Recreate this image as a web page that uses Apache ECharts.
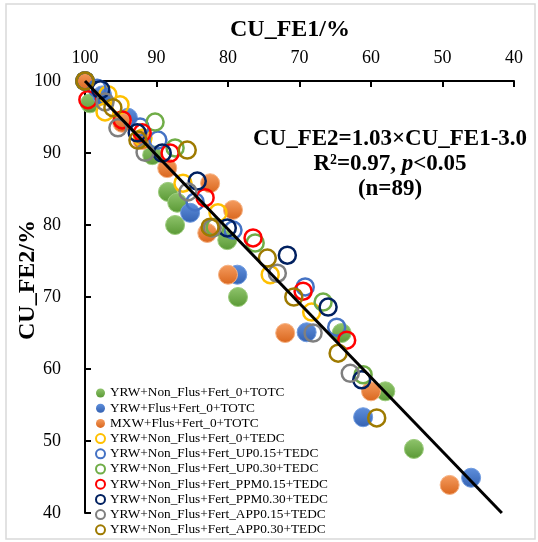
<!DOCTYPE html>
<html>
<head>
<meta charset="utf-8">
<script src="https://cdn.jsdelivr.net/npm/echarts@6/dist/echarts.min.js"></script>
<style>
  html, body { margin: 0; padding: 0; background: #fff; }
  #chart { width: 538px; height: 542px; }
</style>
</head>
<body>
<div id="chart"></div>
<script>
// axis ticks
const xTicks = [100, 90, 80, 70, 60, 50, 40];
const yTicks = [40, 50, 60, 70, 80, 90, 100];

// series names (legend order)
const seriesNames = [
  "YRW+Non_Flus+Fert_0+TOTC",
  "YRW+Flus+Fert_0+TOTC",
  "MXW+Flus+Fert_0+TOTC",
  "YRW+Non_Flus+Fert_0+TEDC",
  "YRW+Non_Flus+Fert_UP0.15+TEDC",
  "YRW+Non_Flus+Fert_UP0.30+TEDC",
  "YRW+Non_Flus+Fert_PPM0.15+TEDC",
  "YRW+Non_Flus+Fert_PPM0.30+TEDC",
  "YRW+Non_Flus+Fert_APP0.15+TEDC",
  "YRW+Non_Flus+Fert_APP0.30+TEDC",
];

// [CU_FE1, CU_FE2] pairs
const yrwNonFlusTOTC = [[100, 100], [99.3, 96.9], [90.6, 89.7], [88.4, 84.6], [87.1, 83.1], [87.4, 80.0],
  [80.1, 77.9], [78.6, 70.0], [64.1, 65.0], [58.0, 56.9], [54.0, 48.9]];
const yrwFlusTOTC = [[100, 100], [97.6, 98.0], [94.0, 94.9], [85.3, 81.7], [78.7, 73.1], [69.0, 65.1],
  [61.1, 53.3], [46.0, 44.9]];
const mxwFlusTOTC = [[100, 100], [94.8, 94.2], [92.0, 91.8], [88.5, 87.9], [82.5, 85.8], [79.3, 82.1],
  [82.9, 78.9], [80.0, 73.1], [72.0, 65.0], [60.0, 56.9], [49.0, 43.9]];
const fert0TEDC = [[100, 100], [96.8, 98.1], [97.2, 95.7], [95.1, 96.7], [91.9, 92.1], [86.3, 85.8],
  [81.4, 81.7], [74.1, 73.1], [68.3, 67.9]];
const up015TEDC = [[100, 100], [98.3, 99.0], [92.3, 93.6], [89.8, 91.8], [84.6, 83.2], [79.3, 79.3],
  [69.2, 71.4], [64.8, 65.8]];
const up030TEDC = [[100, 100], [90.2, 94.3], [87.4, 90.7], [81.8, 79.7], [76.2, 77.5], [66.7, 69.3],
  [61.1, 59.2]];
const ppm015TEDC = [[99.6, 97.4], [94.8, 94.6], [92.0, 92.8], [88.1, 90.0], [83.2, 83.8], [76.5, 78.2],
  [69.5, 70.8], [63.4, 64.0]];
const ppm030TEDC = [[100, 100], [97.8, 98.8], [92.7, 92.8], [89.2, 90.0], [84.3, 86.1], [80.1, 79.6],
  [71.7, 75.8], [66.0, 68.6], [61.3, 58.5]];
const app015TEDC = [[100, 100], [97.2, 97.1], [95.4, 93.5], [91.6, 90.1], [85.6, 84.6], [82.2, 79.6],
  [73.1, 73.3], [68.1, 65.0], [62.9, 59.4]];
const app030TEDC = [[100, 100], [96.1, 96.3], [92.6, 91.8], [85.7, 90.4], [82.5, 79.7], [74.5, 75.4],
  [70.8, 70.0], [64.6, 62.2], [59.2, 53.2]];

// fitted line CU_FE2 = 1.03*CU_FE1 - 3.0, end points
const fitLine = [[100, 100], [41.7, 40]];

const seriesData = [yrwNonFlusTOTC, yrwFlusTOTC, mxwFlusTOTC, fert0TEDC, up015TEDC, up030TEDC,
  ppm015TEDC, ppm030TEDC, app015TEDC, app030TEDC];

const serif = "'Liberation Serif', 'Times New Roman', serif";

// filled marker colours [light, dark, rim]
const filledColors = [
  ["#8fc46c", "#5a9935", "#9ccc7c"],
  ["#5f8fdc", "#3462b2", "#6f9be0"],
  ["#f59c5f", "#d9661d", "#f6b283"],
];
const hollowColors = ["#ffc000", "#4472c4", "#70ad47", "#ff0000", "#002060", "#7f7f7f", "#9e7a00"];

function grad(c) {
  return {
    type: "linear", x: 0, y: 0, x2: 0, y2: 1,
    colorStops: [{ offset: 0, color: c[0] }, { offset: 1, color: c[1] }],
  };
}

var series = [];
var legendData = [];
seriesNames.forEach((name, i) => {
  if (i < 3) {
    const c = filledColors[i];
    series.push({
      name: name, type: "scatter", data: seriesData[i], symbol: "circle", symbolSize: 19,
      itemStyle: { color: grad(c), borderColor: c[2], borderWidth: 1, opacity: 1 },
      z: 2,
    });
    legendData.push({ name: name, itemStyle: { color: grad(c), borderWidth: 0 } });
  } else {
    const col = hollowColors[i - 3];
    series.push({
      name: name, type: "scatter", data: seriesData[i], symbol: "circle", symbolSize: 17,
      itemStyle: { color: "rgba(0,0,0,0)", borderColor: col, borderWidth: 2.5, opacity: 1 },
      z: 3,
    });
    legendData.push({ name: name, itemStyle: { color: "#fff", borderColor: col, borderWidth: 2 } });
  }
});
series.push({
  name: "fit", type: "line", data: fitLine, symbol: "none", silent: true,
  lineStyle: { color: "#000", width: 3 }, z: 5,
});

var myChart = echarts.init(document.getElementById("chart"), null, { renderer: "canvas" });
const opt = {
  backgroundColor: "#fff",
  animation: false,
  grid: { left: 85, right: 24, top: 81, bottom: 29 },
  xAxis: {
    type: "value", position: "top", inverse: true,
    min: 40, max: 100, interval: 10,
    axisLine: { onZero: false, lineStyle: { color: "#000", width: 2 } },
    axisTick: { inside: true, length: 6, lineStyle: { color: "#000", width: 2 } },
    axisLabel: {
      color: "#000", fontSize: 18, fontFamily: serif, margin: 14,
      formatter: (v) => (xTicks.includes(v) ? String(v) : ""),
    },
    splitLine: { show: false },
  },
  yAxis: {
    type: "value", min: 40, max: 100, interval: 10,
    axisLine: { show: true, onZero: false, lineStyle: { color: "#000", width: 2 } },
    axisTick: { show: true, inside: true, length: 6, lineStyle: { color: "#000", width: 2 } },
    axisLabel: {
      color: "#000", fontSize: 18, fontFamily: serif, margin: 24,
      formatter: (v) => (yTicks.includes(v) ? String(v) : ""),
    },
    splitLine: { show: false },
  },
  legend: {
    orient: "vertical", left: 95, top: 386, padding: 0,
    itemWidth: 9, itemHeight: 9, itemGap: 1.2, icon: "circle",
    textStyle: { fontFamily: serif, fontSize: 13.3, color: "#000", lineHeight: 14 },
    data: legendData,
  },
  graphic: [
    {
      type: "rect", silent: true, z: -10,
      shape: { x: 6, y: 4, width: 529, height: 535 },
      style: { fill: "none", stroke: "#d9d9d9", lineWidth: 1.5 },
    },
    {
      type: "text", x: 290, y: 30, silent: true,
      style: { text: "CU_FE1/%", font: "bold 24px " + serif, fill: "#000", align: "center", verticalAlign: "middle" },
    },
    {
      type: "text", x: 28, y: 280, rotation: Math.PI / 2, silent: true,
      style: { text: "CU_FE2/%", font: "bold 24px " + serif, fill: "#000", align: "center", verticalAlign: "middle" },
    },
    {
      type: "text", x: 390, y: 139, silent: true,
      style: { text: "CU_FE2=1.03×CU_FE1-3.0", font: "bold 23px " + serif, fill: "#000", align: "center", verticalAlign: "middle" },
    },
    {
      type: "text", x: 390, y: 164, silent: true,
      style: {
        text: "{b|R²=0.97, }{i|p}{b|<0.05}", fill: "#000", align: "center", verticalAlign: "middle",
        rich: {
          b: { fontFamily: serif, fontWeight: "bold", fontSize: 23, fill: "#000" },
          i: { fontFamily: serif, fontWeight: "bold", fontStyle: "italic", fontSize: 23, fill: "#000" },
        },
      },
    },
    {
      type: "text", x: 390, y: 189, silent: true,
      style: { text: "(n=89)", font: "bold 23px " + serif, fill: "#000", align: "center", verticalAlign: "middle" },
    },
  ],
  series: series,
};
myChart.setOption(opt);
</script>
</body>
</html>
